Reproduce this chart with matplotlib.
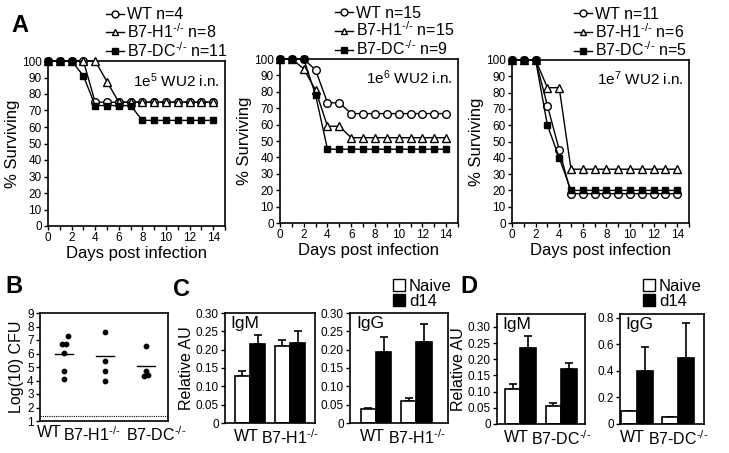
import matplotlib
matplotlib.use('Agg')
import matplotlib.pyplot as plt
from matplotlib.patches import Patch

plt.rcParams['font.family'] = ['Liberation Sans', 'DejaVu Sans']
plt.rcParams['mathtext.fontset'] = 'custom'
plt.rcParams['mathtext.rm'] = 'Liberation Sans'
plt.rcParams['mathtext.it'] = 'Liberation Sans:italic'
plt.rcParams['mathtext.bf'] = 'Liberation Sans:bold'

KO = '$^{\u2010/\u2010}$'  # superscript -/- with short hyphens

# ---- panel A: survival (%) per day ----
days = list(range(15))
wt_1e5 = [100, 100, 100, 100, 75, 75, 75, 75, 75, 75, 75, 75, 75, 75, 75]
h1_1e5 = [100, 100, 100, 100, 100, 87.5, 75, 75, 75, 75, 75, 75, 75, 75, 75]
dc_1e5 = [100, 100, 100, 91, 73, 73, 73, 73, 64, 64, 64, 64, 64, 64, 64]

wt_1e6 = [100, 100, 100, 93.3, 73.3, 73.3, 66.7, 66.7, 66.7, 66.7, 66.7, 66.7, 66.7, 66.7, 66.7]
h1_1e6 = [100, 100, 94, 81, 59, 59, 52, 52, 52, 52, 52, 52, 52, 52, 52]
dc_1e6 = [100, 100, 100, 78, 45, 45, 45, 45, 45, 45, 45, 45, 45, 45, 45]

wt_1e7 = [100, 100, 100, 72, 45, 18, 18, 18, 18, 18, 18, 18, 18, 18, 18]
h1_1e7 = [100, 100, 100, 83, 83, 33, 33, 33, 33, 33, 33, 33, 33, 33, 33]
dc_1e7 = [100, 100, 100, 60, 40, 20, 20, 20, 20, 20, 20, 20, 20, 20, 20]

legend_1e5 = ['WT n=4', 'B7-H1' + KO + ' n=8', 'B7-DC' + KO + ' n=11']
legend_1e6 = ['WT n=15', 'B7-H1' + KO + ' n=15', 'B7-DC' + KO + ' n=9']
legend_1e7 = ['WT n=11', 'B7-H1' + KO + ' n=6', 'B7-DC' + KO + ' n=5']

# ---- panel B: lung CFU ----
cfu_groups = ['WT', 'B7-H1' + KO, 'B7-DC' + KO]
cfu_wt = [7.3, 6.7, 6.7, 6.05, 4.7, 4.1]
cfu_h1 = [7.6, 5.45, 4.7, 4.0]
cfu_dc = [6.55, 4.7, 4.3, 4.38]
cfu_jitter = [[0.1, -0.07, 0.03, 0, 0, 0], [0, 0, 0, 0], [0, 0, -0.05, 0.06]]
cfu_mean = [5.95, 5.85, 5.05]
detect_limit = 1.4

# ---- panels C, D: antibody levels ----
c_groups = ['WT', 'B7-H1' + KO]
c_igm_naive = [0.128, 0.211]
c_igm_naive_err = [0.014, 0.015]
c_igm_d14 = [0.216, 0.218]
c_igm_d14_err = [0.025, 0.033]
c_igg_naive = [0.037, 0.060]
c_igg_naive_err = [0.003, 0.009]
c_igg_d14 = [0.195, 0.220]
c_igg_d14_err = [0.040, 0.049]

d_groups = ['WT', 'B7-DC' + KO]
d_igm_naive = [0.108, 0.056]
d_igm_naive_err = [0.015, 0.010]
d_igm_d14 = [0.236, 0.169]
d_igm_d14_err = [0.037, 0.019]
d_igg_naive = [0.10, 0.05]
d_igg_naive_err = [0, 0]
d_igg_d14 = [0.40, 0.50]
d_igg_d14_err = [0.18, 0.26]

W, H = 729, 453
fig = plt.figure(figsize=(W / 100, H / 100), dpi=100)


def box(l, t, r, b):
    return fig.add_axes([l / W, 1 - b / H, (r - l) / W, (b - t) / H])


def frame(ax):
    for s in ax.spines.values():
        s.set_linewidth(1.2)


def survival(ax, wt, h1, dc, labels, dose, legx):
    ax.plot(days, wt, '-o', color='black', mfc='white', mec='black', ms=5.5, lw=1,
            clip_on=False, label=labels[0], zorder=3)
    ax.plot(days, h1, '-^', color='black', mfc='white', mec='black', ms=5.5, lw=1,
            clip_on=False, label=labels[1], zorder=3)
    ax.plot(days, dc, '-s', color='black', mfc='black', mec='black', ms=5, lw=1,
            clip_on=False, label=labels[2], zorder=3)
    ax.set_xlim(0, 15)
    ax.set_ylim(0, 100)
    ax.set_xticks(range(0, 15, 2))
    ax.set_xticks(range(1, 16, 2), minor=True)
    ax.set_yticks(range(0, 101, 10))
    ax.tick_params(which='both', direction='out', length=3, width=1, labelsize=8.5, pad=1.5)
    ax.set_ylabel('% Surviving', fontsize=12, labelpad=1)
    ax.set_xlabel('Days post infection', fontsize=12, labelpad=1)
    ax.text(0.97, 0.94, dose, ha='right', va='top', transform=ax.transAxes, fontsize=11)
    ax.legend(loc='upper left', bbox_to_anchor=(legx, 1.325), frameon=False,
              handlelength=1.1, handletextpad=0.2, labelspacing=0.0, fontsize=11.5,
              borderaxespad=0, borderpad=0, markerscale=0.9)
    frame(ax)


a1 = box(48, 61, 225, 226)
survival(a1, wt_1e5, h1_1e5, dc_1e5, legend_1e5, r'1e$^{5}$ WU2 i.n.', 0.33)
a2 = box(280, 59, 458, 223)
survival(a2, wt_1e6, h1_1e6, dc_1e6, legend_1e6, r'1e$^{6}$ WU2 i.n.', 0.31)
a3 = box(512, 60, 689, 223)
survival(a3, wt_1e7, h1_1e7, dc_1e7, legend_1e7, r'1e$^{7}$ WU2 i.n.', 0.35)

# panel B
b = box(40, 313, 168, 421)
for i, (vals, jit) in enumerate(zip([cfu_wt, cfu_h1, cfu_dc], cfu_jitter)):
    pos = i + 1
    b.scatter([pos + j for j in jit], vals, s=10, color='black', zorder=3)
    b.plot([pos - 0.22, pos + 0.22], [cfu_mean[i], cfu_mean[i]], color='black', lw=1)
b.axhline(detect_limit, color='black', lw=0.8, ls=(0, (1, 1)))
b.set_xlim(0.4, 3.55)
b.set_ylim(1, 9)
b.set_yticks(range(1, 10))
b.set_xticks([0.62, 1.68, 3.25])
b.set_xticklabels(cfu_groups, fontsize=11.5)
b.tick_params(axis='y', direction='out', length=3, width=1, labelsize=8.5, pad=1.5)
b.tick_params(axis='x', length=0, pad=3)
b.set_ylabel('Log(10) CFU', fontsize=11.5, labelpad=2)
frame(b)


def bars(ax, naive, naive_err, d14, d14_err, groups, xlim, ylim, yticks, ylabels, title, w=0.38):
    x = [0, 1]
    xn = [p - w / 2 for p in x]
    xd = [p + w / 2 for p in x]
    ax.bar(xn, naive, width=w, color='white', edgecolor='black', lw=1.2, zorder=2)
    ax.bar(xd, d14, width=w, color='black', edgecolor='black', lw=1.2, zorder=2)
    ax.errorbar(xn, naive, yerr=[[0] * 2, naive_err], fmt='none', ecolor='black',
                elinewidth=1.2, capsize=3, capthick=1.2, zorder=1)
    ax.errorbar(xd, d14, yerr=[[0] * 2, d14_err], fmt='none', ecolor='black',
                elinewidth=1.2, capsize=3, capthick=1.2, zorder=1)
    ax.set_xlim(*xlim)
    ax.set_ylim(*ylim)
    ax.set_yticks(yticks)
    ax.set_yticklabels(ylabels)
    ax.set_xticks([-0.1, 1.0])
    ax.set_xticklabels(groups, fontsize=11.5)
    ax.tick_params(axis='y', direction='out', length=3, width=1, labelsize=8.5, pad=1.5)
    ax.tick_params(axis='x', length=0, pad=4)
    ax.text(0.06, 0.97, title, ha='left', va='top', transform=ax.transAxes, fontsize=12.5)
    frame(ax)


t30 = [0, 0.05, 0.10, 0.15, 0.20, 0.25, 0.30]
l30 = ['0', '0.05', '0.10', '0.15', '0.20', '0.25', '0.30']

c1 = box(225, 313, 315, 423)
bars(c1, c_igm_naive, c_igm_naive_err, c_igm_d14, c_igm_d14_err, c_groups,
     (-0.62, 1.62), (0, 0.30), t30, l30, 'IgM')
c1.set_ylabel('Relative AU', fontsize=11.5, labelpad=1)
c2 = box(350, 313, 448, 423)
bars(c2, c_igg_naive, c_igg_naive_err, c_igg_d14, c_igg_d14_err, c_groups,
     (-0.64, 1.78), (0, 0.30), t30, l30, 'IgG')

d1 = box(497, 314, 585, 424)
bars(d1, d_igm_naive, d_igm_naive_err, d_igm_d14, d_igm_d14_err, d_groups,
     (-0.57, 1.58), (0, 0.34), t30, l30, 'IgM')
d1.set_ylabel('Relative AU', fontsize=11.5, labelpad=1)
d2 = box(620, 314, 704, 424)
bars(d2, d_igg_naive, d_igg_naive_err, d_igg_d14, d_igg_d14_err, d_groups,
     (-0.41, 1.63), (0, 0.83), [0, 0.2, 0.4, 0.6, 0.8], ['0', '0.2', '0.4', '0.6', '0.8'], 'IgG')

handles = [Patch(facecolor='white', edgecolor='black', lw=1), Patch(facecolor='black', edgecolor='black')]
for lx in (393, 643):
    fig.legend(handles, ['Naive', 'd14'], loc='upper left', bbox_to_anchor=(lx / W, 1 - 279 / H),
               frameon=False, handlelength=0.7, handleheight=0.7, handletextpad=0.25,
               labelspacing=0.0, fontsize=12, borderpad=0, borderaxespad=0)

for letter, px, py in [('A', 11, 14), ('B', 5, 275), ('C', 173, 278), ('D', 460, 275)]:
    fig.text(px / W, 1 - py / H, letter, fontsize=17, fontweight='bold', ha='left', va='top')

fig.savefig('out.png', dpi=100)
